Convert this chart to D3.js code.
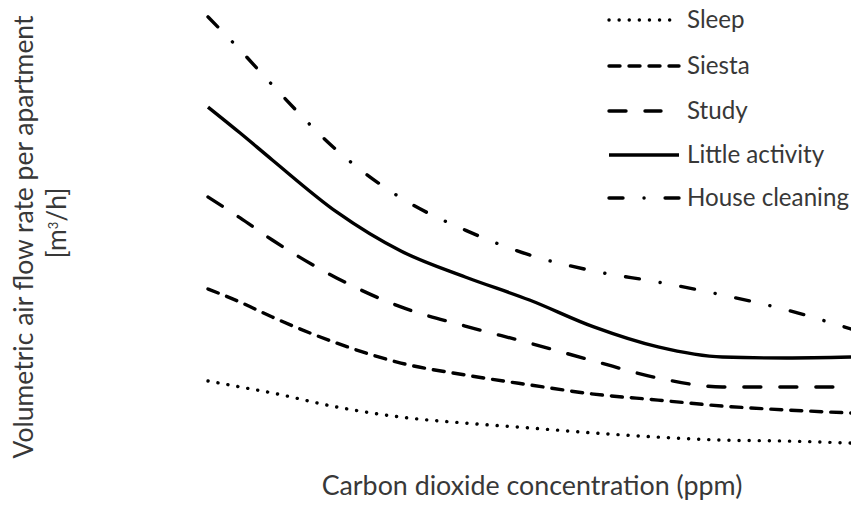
<!DOCTYPE html>
<html>
<head>
<meta charset="utf-8">
<script src="https://cdn.jsdelivr.net/npm/d3@7"></script>
<style>
  body { margin: 0; background: #fff; }
  text { font-family: Lato, "Open Sans", sans-serif; fill: #383838; }
</style>
</head>
<body>
<div id="chart"></div>
<script>
// CO2 concentration (ppm), no ticks shown in the original
const ppm = [500, 550, 600, 700, 800, 900, 1000, 1100, 1200, 1300, 1400, 1500];

// air flow rate per apartment (m3/h)
const sleep = [38.7, 36.1, 33.5, 27.4, 23.0, 20.4, 18.3, 16.1, 14.3, 13.0, 12.6, 11.7];
const siesta = [78.7, 73.0, 66.5, 55.2, 46.5, 41.3, 37.0, 33.0, 30.4, 27.8, 26.1, 24.8];
const study = [118.7, 109.6, 100.0, 83.5, 70.9, 62.6, 55.2, 47.4, 40.0, 36.1, 36.1, 36.1];
const littleActivity = [157.8, 146.5, 134.8, 112.2, 95.2, 83.9, 73.9, 62.2, 53.5, 49.1, 48.7, 49.1];
const houseCleaning = [197.0, 182.6, 167.4, 139.1, 118.3, 104.3, 93.5, 86.5, 81.7, 76.1, 69.6, 61.3];

const seriesNames = ["Sleep", "Siesta", "Study", "Little activity", "House cleaning"];

const width = 851;
const height = 509;

const dashes = {
  "Sleep": "0.1,10",
  "Siesta": "11,9",
  "Study": "17,19",
  "Little activity": null,
  "House cleaning": "14,21,0.1,21"
};

const series = [sleep, siesta, study, littleActivity, houseCleaning].map((vals, i) => ({
  name: seriesNames[i],
  values: vals.map((v, j) => ({ x: ppm[j], y: v }))
}));

const svg = d3
  .select("#chart")
  .append("svg")
  .attr("width", width)
  .attr("height", height);

const x = d3.scaleLinear().domain([500, 1500]).range([208, 851]);
const y = d3.scaleLinear().domain([0, 200]).range([470, 10]);

const line = d3
  .line()
  .x(d => x(d.x))
  .y(d => y(d.y))
  .curve(d3.curveMonotoneX);

svg
  .append("g")
  .selectAll("path")
  .data(series)
  .join("path")
  .attr("d", d => line(d.values))
  .attr("fill", "none")
  .attr("stroke", "#000")
  .attr("stroke-width", 3.4)
  .attr("stroke-linecap", d => (dashes[d.name] ? "round" : "butt"))
  .attr("stroke-dasharray", d => dashes[d.name]);

// scale a text's font so it spans the given width
function fit(sel, target) {
  const w = sel.node().getComputedTextLength();
  const fs = parseFloat(sel.attr("font-size"));
  sel.attr("font-size", (fs * target) / w);
}

// legend
const legendY = [20, 66, 111, 155, 198];
const legend = svg
  .append("g")
  .selectAll("g")
  .data(series)
  .join("g")
  .attr("transform", (d, i) => `translate(609, ${legendY[i]})`);

legend
  .append("line")
  .attr("x1", 0)
  .attr("x2", d => (d.name === "Study" ? 52 : 70))
  .attr("y1", 0)
  .attr("y2", 0)
  .attr("stroke", "#000")
  .attr("stroke-width", 3.4)
  .attr("stroke-linecap", d => (dashes[d.name] ? "round" : "butt"))
  .attr("stroke-dasharray", d => dashes[d.name]);

const legendText = legend
  .append("text")
  .attr("x", 78)
  .attr("dy", "0.35em")
  .attr("font-size", 20)
  .text(d => d.name);
fit(legendText.filter(d => d.name === "House cleaning"), 162);
legendText.attr("font-size", legendText.filter(d => d.name === "House cleaning").attr("font-size"));

// axis titles
const xTitle = svg
  .append("text")
  .attr("x", 532)
  .attr("y", 495)
  .attr("text-anchor", "middle")
  .attr("font-size", 20)
  .text("Carbon dioxide concentration (ppm)");
fit(xTitle, 421);

const yTitle = svg
  .append("g")
  .attr("transform", "translate(33, 237) rotate(-90)");

const yLine = yTitle
  .append("text")
  .attr("text-anchor", "middle")
  .attr("font-size", 20)
  .text("Volumetric air flow rate per apartment");
fit(yLine, 443);

const unit = yTitle
  .append("text")
  .attr("x", 14)
  .attr("y", 33)
  .attr("text-anchor", "middle")
  .attr("font-size", yLine.attr("font-size"));
unit.append("tspan").text("[m");
unit.append("tspan").attr("dy", -8).attr("font-size", 13).text("3");
unit.append("tspan").attr("dy", 8).text("/h]");
</script>
</body>
</html>
